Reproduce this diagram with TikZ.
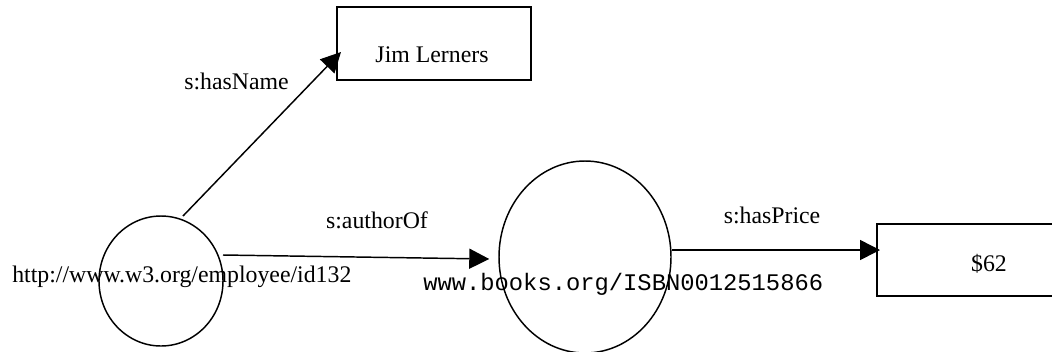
\documentclass[tikz,border=0pt]{standalone}
\usepackage{fontspec}
\setmainfont{Liberation Serif}
\setmonofont{Liberation Mono}
\usetikzlibrary{arrows.meta,calc,shapes.geometric}
\begin{document}
\begin{tikzpicture}[x=0.75pt,y=-0.75pt,
  lbl/.style={font=\fontsize{17.85}{20}\selectfont, inner sep=0pt},
  box/.style={draw, line width=1.5pt, inner sep=0pt},
  res/.style={draw, ellipse, line width=1.1pt, inner sep=0pt},
  arr/.style={line width=1.1pt, -{Triangle[length=15pt,width=15pt]}}]
\useasboundingbox (0,0) rectangle (1052,351);

% literal nodes
\node[box, minimum width=145.5pt, minimum height=54.75pt] (J) at (434,43.5) {};
\node[box, minimum width=138.75pt, minimum height=54pt] (P) at (969.5,260) {};

% resource nodes
\node[res, minimum width=93pt, minimum height=97.5pt] (L) at (161,281) {};
\node[res, minimum width=129pt, minimum height=144pt] (M) at (585,257) {};

% node texts
\node[lbl, anchor=base] (jtxt) at (432,62) {Jim Lerners};
\node[lbl, anchor=base] (ptxt) at (989,271) {\$62};
\node[lbl, anchor=base west] (ltxt) at (12,282) {http://www.w3.org/employee/id132};
\node[lbl, anchor=base west, font=\fontsize{17.85}{20}\selectfont\ttfamily] (mtxt) at (423,290) {www.books.org/ISBN0012515866};

% edge end points
\coordinate (hnS) at ($(L.center)+(22,-65)$);
\coordinate (hnE) at ($(J.west)+(5,8.5)$);
\coordinate (aoS) at ($(L.center)+(62,-26)$);
\coordinate (aoE) at ($(M.west)+(-9,2)$);
\coordinate (hpS) at ($(M.east)+(0,-7)$);
\coordinate (hpE) at ($(P.west)+(4,-10)$);

% properties
\draw[arr] (hnS) -- (hnE);
\draw[arr] (aoS) -- (aoE);
\draw[arr] (hpS) -- (hpE);

% property labels
\node[lbl, anchor=base] (hn) at (236.5,89) {s:hasName};
\node[lbl, anchor=base] (ao) at (377,228) {s:authorOf};
\node[lbl, anchor=base] (hp) at (772,223) {s:hasPrice};
\end{tikzpicture}
\end{document}
